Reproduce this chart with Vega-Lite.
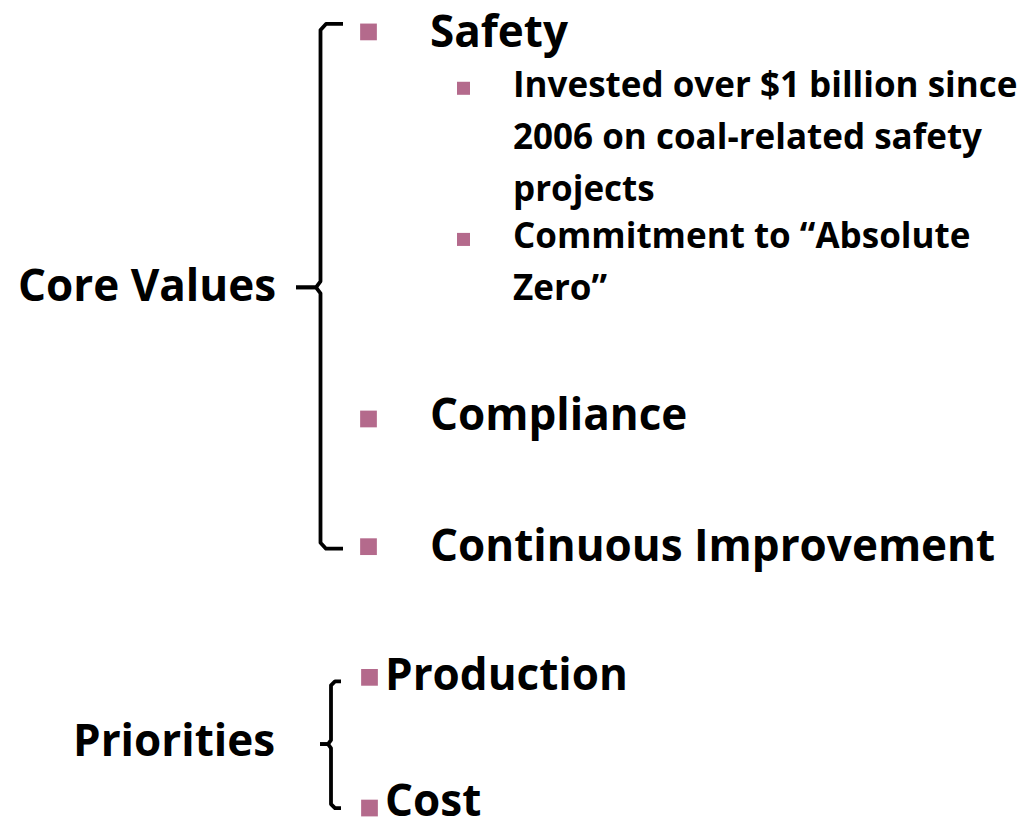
{
  "$schema": "https://vega.github.io/schema/vega-lite/v6.json",
  "width": 1031,
  "height": 825,
  "autosize": {"type": "fit", "contains": "padding"},
  "padding": 0,
  "background": "white",
  "config": {"view": {"stroke": null}},
  "datasets": {
    "braces": [
      {"g": "c1", "i": 1, "x": 343, "y": 24},
      {"g": "c1", "i": 2, "x": 326, "y": 24},
      {"g": "c1", "i": 3, "x": 320.5, "y": 30},
      {"g": "c1", "i": 4, "x": 320.5, "y": 282},
      {"g": "c1", "i": 5, "x": 316, "y": 288},
      {"g": "c1", "i": 6, "x": 296, "y": 288},
      {"g": "c2", "i": 1, "x": 296, "y": 288},
      {"g": "c2", "i": 2, "x": 316, "y": 288},
      {"g": "c2", "i": 3, "x": 320.5, "y": 294},
      {"g": "c2", "i": 4, "x": 320.5, "y": 544},
      {"g": "c2", "i": 5, "x": 326, "y": 550},
      {"g": "c2", "i": 6, "x": 343, "y": 550},
      {"g": "p1", "i": 1, "x": 341, "y": 683},
      {"g": "p1", "i": 2, "x": 335, "y": 683},
      {"g": "p1", "i": 3, "x": 331, "y": 687},
      {"g": "p1", "i": 4, "x": 331, "y": 742},
      {"g": "p1", "i": 5, "x": 328, "y": 746},
      {"g": "p1", "i": 6, "x": 320, "y": 746},
      {"g": "p2", "i": 1, "x": 320, "y": 746},
      {"g": "p2", "i": 2, "x": 328, "y": 746},
      {"g": "p2", "i": 3, "x": 331, "y": 750},
      {"g": "p2", "i": 4, "x": 331, "y": 806},
      {"g": "p2", "i": 5, "x": 335, "y": 810},
      {"g": "p2", "i": 6, "x": 341, "y": 810}
    ],
    "bullets": [
      {"x": 368.5, "y": 32},
      {"x": 368.5, "y": 420},
      {"x": 368.5, "y": 548},
      {"x": 369.5, "y": 679},
      {"x": 369.5, "y": 810}
    ],
    "subbullets": [
      {"x": 463.5, "y": 88.5},
      {"x": 463.5, "y": 240}
    ],
    "big": [
      {"t": "Safety", "x": 430, "y": 47},
      {"t": "Compliance", "x": 430, "y": 431},
      {"t": "Continuous Improvement", "x": 430, "y": 562},
      {"t": "Production", "x": 385, "y": 692},
      {"t": "Cost", "x": 385, "y": 818},
      {"t": "Core Values", "x": 18, "y": 302},
      {"t": "Priorities", "x": 73, "y": 758}
    ],
    "small": [
      {"t": "Invested over $1 billion since", "x": 513, "y": 97},
      {"t": "2006 on coal-related safety", "x": 513, "y": 149},
      {"t": "projects", "x": 513, "y": 201},
      {"t": "Commitment to “Absolute", "x": 513, "y": 249},
      {"t": "Zero”", "x": 513, "y": 301}
    ]
  },
  "layer": [
    {
      "data": {"name": "braces"},
      "mark": {"type": "line", "color": "black", "strokeWidth": 3.8, "strokeJoin": "round", "strokeCap": "butt"},
      "encoding": {
        "x": {"field": "x", "type": "quantitative", "scale": {"domain": [0, 1031]}, "axis": null},
        "y": {"field": "y", "type": "quantitative", "scale": {"domain": [0, 825], "reverse": true}, "axis": null},
        "detail": {"field": "g"},
        "order": {"field": "i", "type": "quantitative"}
      }
    },
    {
      "data": {"name": "bullets"},
      "mark": {"type": "square", "filled": true, "color": "#b46a8c", "opacity": 1, "size": 280},
      "encoding": {
        "x": {"field": "x", "type": "quantitative", "scale": {"domain": [0, 1031]}, "axis": null},
        "y": {"field": "y", "type": "quantitative", "scale": {"domain": [0, 825], "reverse": true}, "axis": null}
      }
    },
    {
      "data": {"name": "subbullets"},
      "mark": {"type": "square", "filled": true, "color": "#b46a8c", "opacity": 1, "size": 170},
      "encoding": {
        "x": {"field": "x", "type": "quantitative", "scale": {"domain": [0, 1031]}, "axis": null},
        "y": {"field": "y", "type": "quantitative", "scale": {"domain": [0, 825], "reverse": true}, "axis": null}
      }
    },
    {
      "data": {"name": "big"},
      "mark": {"type": "text", "align": "left", "baseline": "alphabetic", "font": "Open Sans", "fontWeight": "bold", "fontSize": 44, "color": "black"},
      "encoding": {
        "x": {"field": "x", "type": "quantitative", "scale": {"domain": [0, 1031]}, "axis": null},
        "y": {"field": "y", "type": "quantitative", "scale": {"domain": [0, 825], "reverse": true}, "axis": null},
        "text": {"field": "t"}
      }
    },
    {
      "data": {"name": "small"},
      "mark": {"type": "text", "align": "left", "baseline": "alphabetic", "font": "Open Sans", "fontWeight": "bold", "fontSize": 35, "color": "black"},
      "encoding": {
        "x": {"field": "x", "type": "quantitative", "scale": {"domain": [0, 1031]}, "axis": null},
        "y": {"field": "y", "type": "quantitative", "scale": {"domain": [0, 825], "reverse": true}, "axis": null},
        "text": {"field": "t"}
      }
    }
  ]
}
